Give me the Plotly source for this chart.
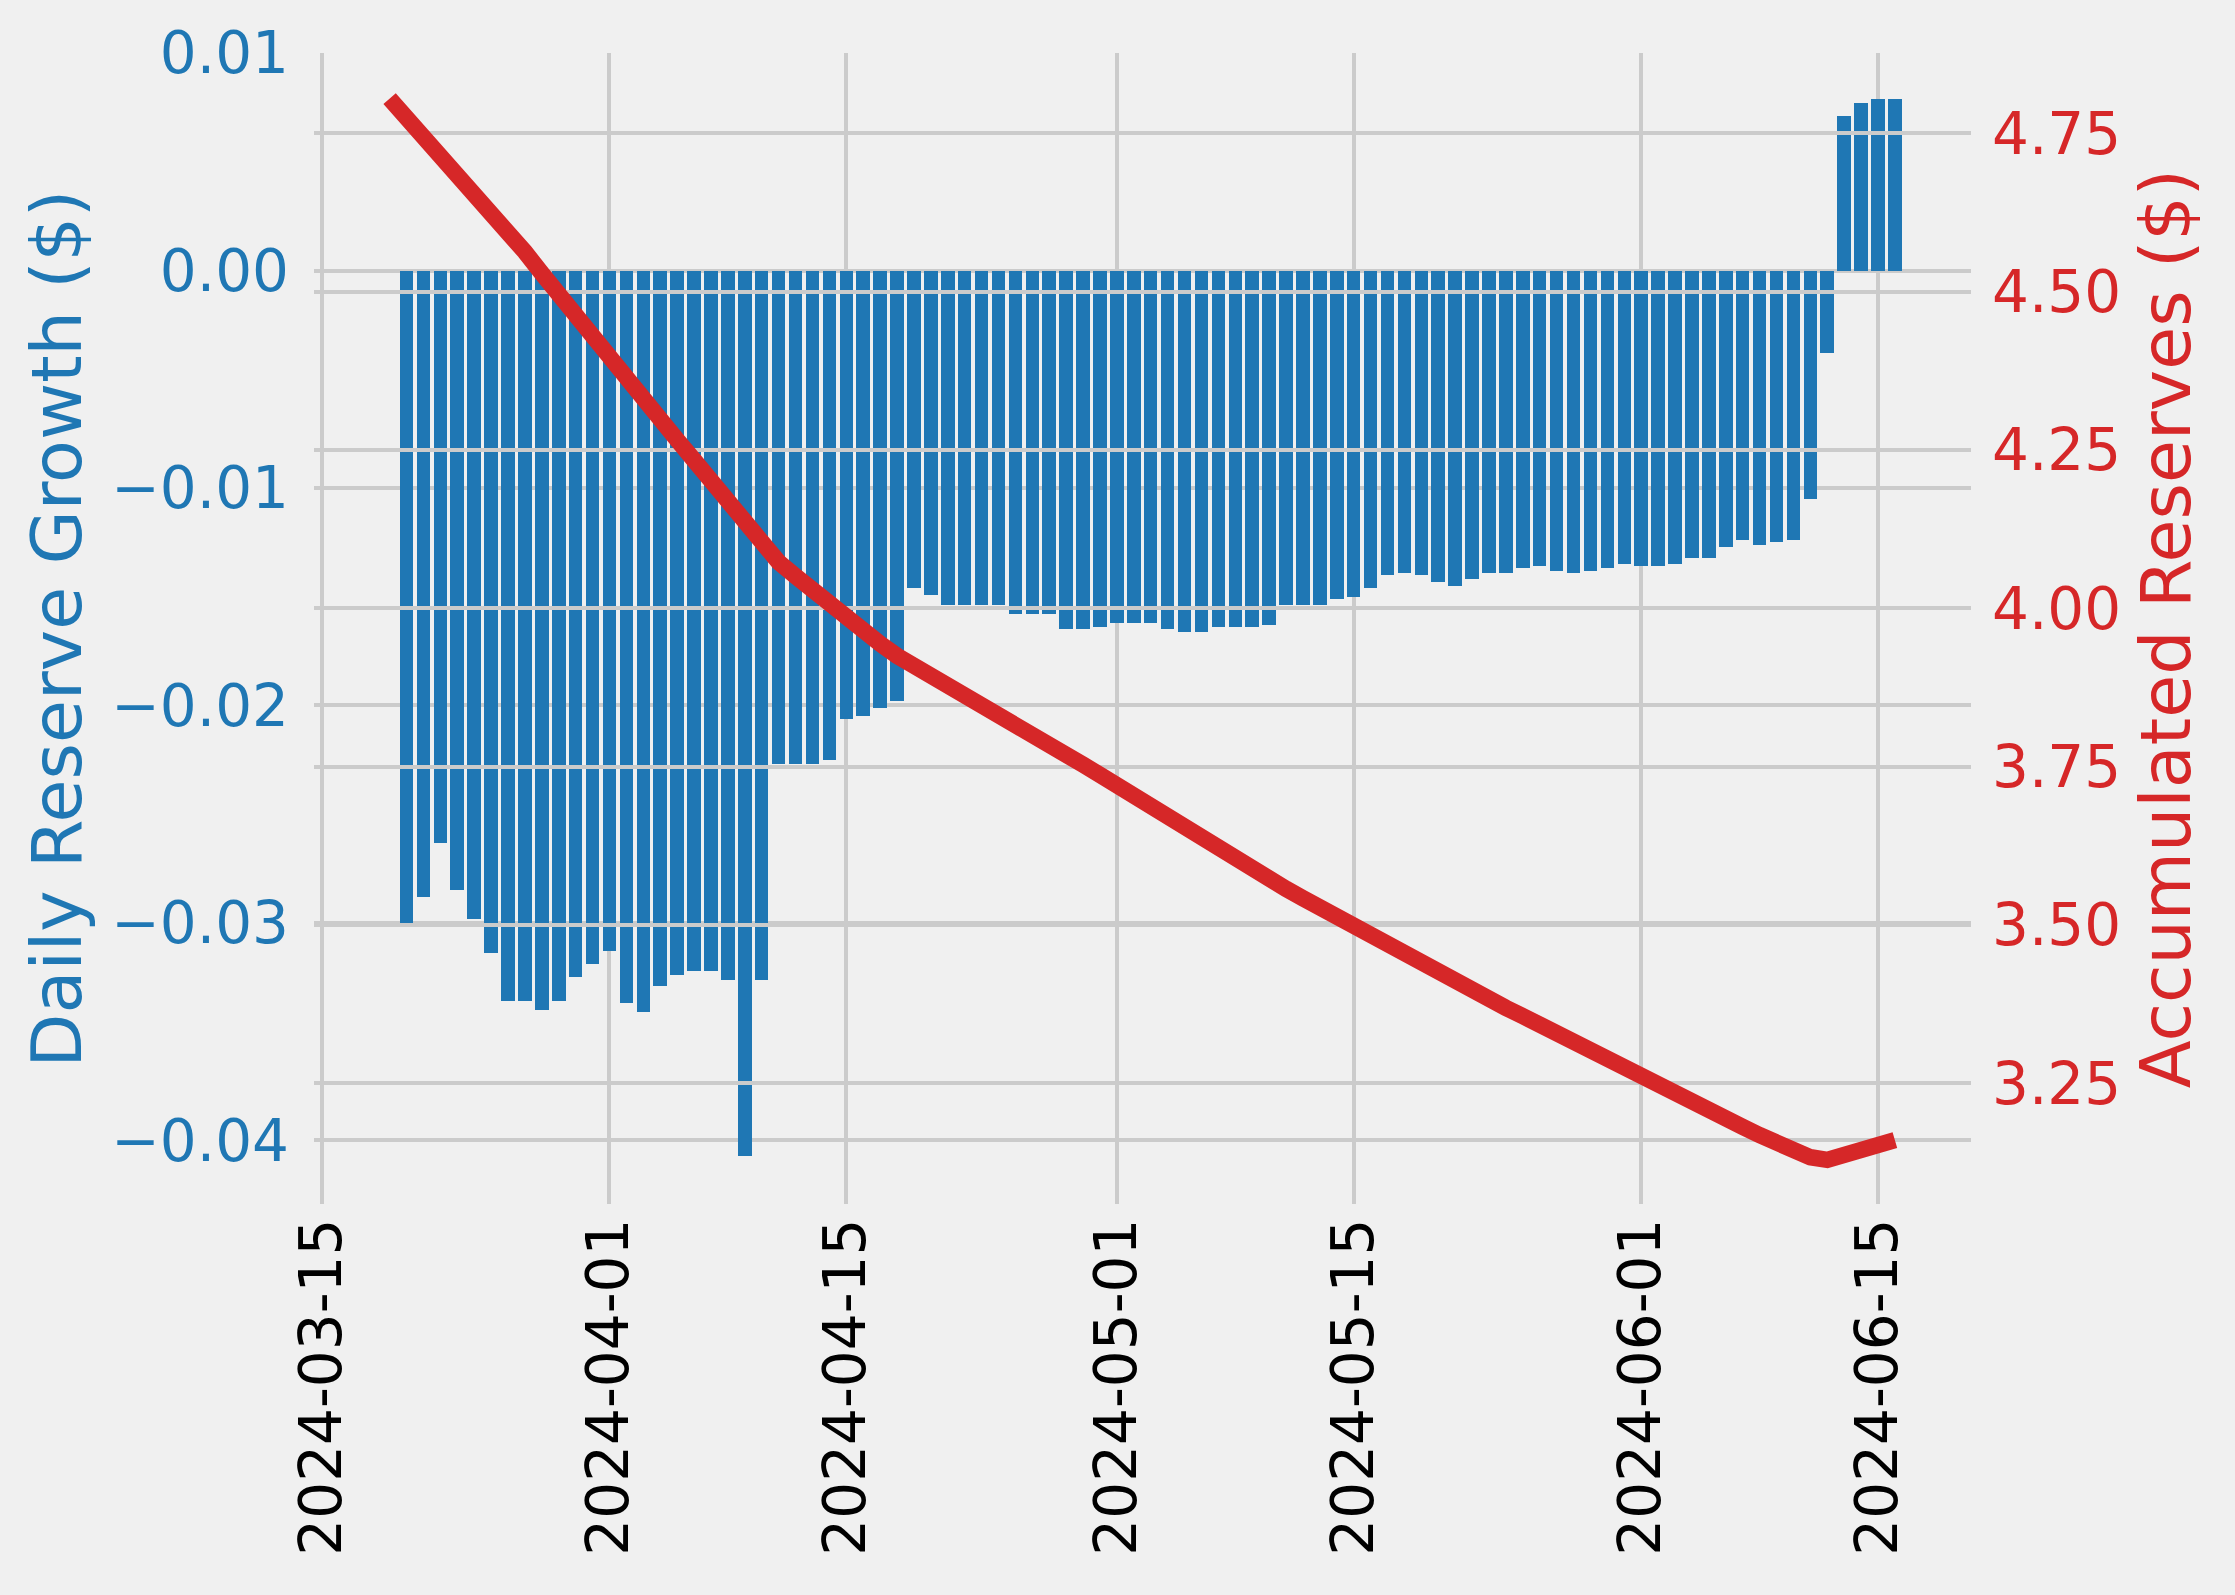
import pandas as pd
import plotly.graph_objects as go

# ---- data ----
bar_dates = pd.date_range("2024-03-20", "2024-06-16", freq="D")
daily_growth = [
    -0.0302, -0.0288, -0.0263, -0.0285, -0.0298, -0.0314, -0.0336, -0.0336, -0.0340, -0.0336,
    -0.0325, -0.0319, -0.0313, -0.0337, -0.0341, -0.0329, -0.0324, -0.0322, -0.0322, -0.0326,
    -0.0407, -0.0326, -0.0227, -0.0227, -0.0227, -0.0225, -0.0206, -0.0205, -0.0201, -0.0198,
    -0.0146, -0.0149, -0.0154, -0.0154, -0.0154, -0.0154, -0.0158, -0.0158, -0.0158, -0.0165,
    -0.0165, -0.0164, -0.0162, -0.0162, -0.0162, -0.0165, -0.0166, -0.0166, -0.0164, -0.0164,
    -0.0164, -0.0163, -0.0154, -0.0154, -0.0154, -0.0151, -0.0150, -0.0146, -0.0140, -0.0139,
    -0.0140, -0.0143, -0.0145, -0.0142, -0.0139, -0.0139, -0.0137, -0.0136, -0.0138, -0.0139,
    -0.0138, -0.0137, -0.0135, -0.0136, -0.0136, -0.0135, -0.0132, -0.0132, -0.0127, -0.0124,
    -0.0126, -0.0125, -0.0124, -0.0105, -0.0038, 0.0071, 0.0077, 0.0079, 0.0079,
]

line_dates = pd.date_range("2024-03-19", "2024-06-16", freq="D")
accumulated = [
    4.805, 4.775, 4.746, 4.720, 4.691, 4.661, 4.630, 4.596, 4.563, 4.529,
    4.495, 4.463, 4.431, 4.400, 4.366, 4.332, 4.299, 4.266, 4.234, 4.202,
    4.169, 4.129, 4.096, 4.073, 4.051, 4.028, 4.006, 3.985, 3.964, 3.944,
    3.925, 3.910, 3.895, 3.880, 3.864, 3.849, 3.833, 3.818, 3.802, 3.786,
    3.770, 3.753, 3.737, 3.720, 3.704, 3.688, 3.672, 3.655, 3.638, 3.622,
    3.606, 3.589, 3.573, 3.557, 3.542, 3.527, 3.512, 3.497, 3.482, 3.468,
    3.454, 3.440, 3.426, 3.411, 3.397, 3.383, 3.369, 3.356, 3.342, 3.328,
    3.314, 3.300, 3.287, 3.273, 3.260, 3.246, 3.233, 3.219, 3.206, 3.193,
    3.181, 3.168, 3.156, 3.144, 3.133, 3.129, 3.136, 3.144, 3.152, 3.160,
]

x_tick_vals = ["2024-03-15", "2024-04-01", "2024-04-15", "2024-05-01",
               "2024-05-15", "2024-06-01", "2024-06-15"]
left_tick_vals = [-0.04, -0.03, -0.02, -0.01, 0.00, 0.01]
left_tick_text = ["\u22120.04", "\u22120.03", "\u22120.02", "\u22120.01", "0.00", "0.01"]
right_tick_vals = [3.25, 3.50, 3.75, 4.00, 4.25, 4.50, 4.75]
right_tick_text = ["3.25", "3.50", "3.75", "4.00", "4.25", "4.50", "4.75"]

# ---- style ----
BG = "#f0f0f0"
GRID = "#cbcbcb"
BLUE = "#1f77b4"
RED = "#d62728"
FONT = "DejaVu Sans"
TICK_SIZE = 58
TITLE_SIZE = 70
GRID_W = 3.5
DAY_MS = 86400000

fig = go.Figure()

fig.add_trace(go.Bar(
    x=bar_dates, y=daily_growth, width=0.8 * DAY_MS,
    marker=dict(color=BLUE, line=dict(width=0)),
    xaxis="x", yaxis="y", showlegend=False,
))

fig.add_trace(go.Scatter(
    x=line_dates, y=accumulated, mode="lines",
    line=dict(color=RED, width=16.5),
    xaxis="x2", yaxis="y2", showlegend=False,
))

x_range = ["2024-03-14 12:43", "2024-06-20 12:00"]

fig.update_layout(
    width=2235, height=1595, autosize=False,
    paper_bgcolor=BG, plot_bgcolor="rgba(0,0,0,0)",
    margin=dict(l=314, r=264, t=53, b=391, pad=0),
    font=dict(family=FONT, size=TICK_SIZE, color="black"),
    bargap=0,
    xaxis=dict(
        domain=[0, 1], anchor="y", type="date", range=x_range,
        tickvals=x_tick_vals, ticktext=x_tick_vals, tickangle=-90,
        showgrid=True, gridcolor=GRID, gridwidth=GRID_W,
        zeroline=False, showline=False, ticks="",
        tickfont=dict(family=FONT, size=TICK_SIZE, color="black"),
        ticklabelstandoff=2,
    ),
    yaxis=dict(
        domain=[0, 1], anchor="x", side="left",
        range=[-0.04292, 0.01],
        tickvals=left_tick_vals, ticktext=left_tick_text,
        showgrid=True, gridcolor=GRID, gridwidth=GRID_W,
        zeroline=False, showline=False, ticks="",
        tickfont=dict(family=FONT, size=TICK_SIZE, color=BLUE),
        ticklabelstandoff=24,
        title=dict(text="Daily Reserve Growth ($)",
                   font=dict(family=FONT, size=TITLE_SIZE, color=BLUE),
                   standoff=6),
    ),
    xaxis2=dict(
        domain=[0, 1], anchor="y2", type="date", matches="x",
        range=x_range, visible=False, showgrid=False,
    ),
    yaxis2=dict(
        domain=[0, 1], anchor="x2", side="right",
        range=[3.0592, 4.877],
        tickvals=right_tick_vals, ticktext=right_tick_text,
        showgrid=True, gridcolor=GRID, gridwidth=GRID_W,
        zeroline=False, showline=False, ticks="",
        tickfont=dict(family=FONT, size=TICK_SIZE, color=RED),
        ticklabelstandoff=20,
        title=dict(text="Accumulated Reserves ($)",
                   font=dict(family=FONT, size=TITLE_SIZE, color=RED),
                   standoff=20),
    ),
)

fig.write_html(
    "out.html",
    config={"displayModeBar": False},
    post_script="document.body.style.margin='0';document.body.style.background='#f0f0f0';",
)
